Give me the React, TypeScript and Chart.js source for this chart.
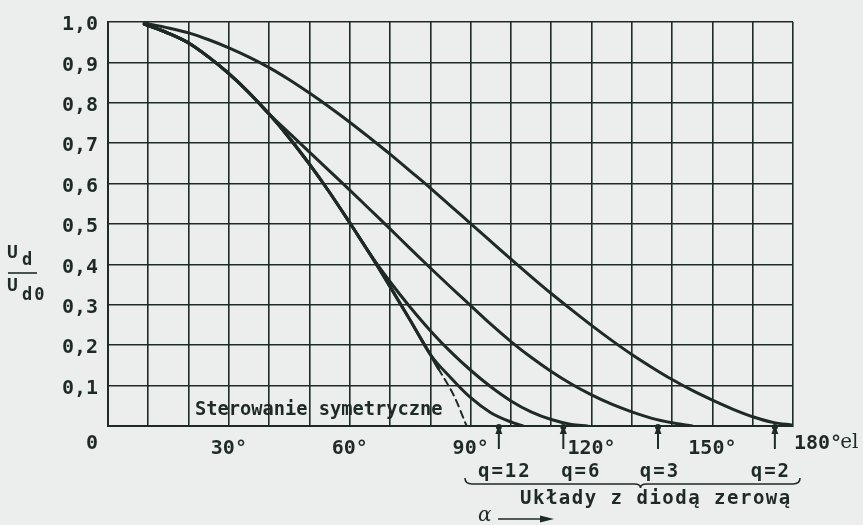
import React, { useEffect, useRef } from 'react';
import { Chart, registerables } from 'chart.js';

Chart.register(...registerables);

// ---- data (alpha in degrees el., Ud/Ud0) ----
const angleTickLabels = [30, 60, 90, 120, 150];

// q = 2 (single-phase with zero diode)
const q2Alpha = [9, 15, 20, 25, 30, 35, 40, 45, 50, 55, 60, 65, 70, 75, 80, 85, 90, 95, 100, 105, 110, 115, 120, 125, 130, 135, 140, 145, 150, 155, 160, 165, 170];
const q2Ud = [0.997, 0.985, 0.973, 0.956, 0.936, 0.913, 0.887, 0.857, 0.824, 0.789, 0.752, 0.713, 0.673, 0.631, 0.589, 0.545, 0.501, 0.457, 0.413, 0.37, 0.328, 0.288, 0.249, 0.212, 0.177, 0.145, 0.115, 0.088, 0.064, 0.042, 0.023, 0.009, 0.002];

// common curve (symmetric control), solid part
const symAlpha = [9, 15, 20, 25, 30, 35, 40, 45, 50, 55, 60, 65, 70, 75, 80, 82];
const symUd = [0.995, 0.972, 0.948, 0.913, 0.872, 0.825, 0.772, 0.713, 0.648, 0.578, 0.503, 0.426, 0.345, 0.262, 0.177, 0.142];

// symmetric control, dashed end
const symDashAlpha = [82, 86, 89];
const symDashUd = [0.142, 0.072, 0.0];

// q = 3 branch
const q3Alpha = [45, 50, 55, 60, 65, 70, 75, 80, 85, 90, 95, 100, 105, 110, 115, 120, 125, 130, 135, 140, 145];
const q3Ud = [0.725, 0.678, 0.631, 0.584, 0.536, 0.488, 0.439, 0.391, 0.344, 0.298, 0.252, 0.209, 0.17, 0.135, 0.104, 0.077, 0.054, 0.035, 0.019, 0.008, 0.0];

// q = 6 branch
const q6Alpha = [70, 75, 80, 85, 90, 95, 100, 105, 110, 115, 119];
const q6Ud = [0.357, 0.294, 0.236, 0.184, 0.138, 0.097, 0.062, 0.035, 0.016, 0.004, 0.0];

// q = 12 branch
const q12Alpha = [85, 90, 95, 100, 103];
const q12Ud = [0.12, 0.07, 0.033, 0.01, 0.0];

// end markers on the alpha axis
const qMarkAlpha = [97, 113, 136.5, 165.5];
const qLabels = ['q=12', 'q=6', 'q=3', 'q=2'];

const INK = '#1f2a26';
const BG = '#eceeed';
const MONO = '"DejaVu Sans Mono", "Liberation Mono", monospace';

const pts = (xs: number[], ys: number[]) => xs.map((x, i) => ({ x, y: ys[i] }));
const sharedUpTo = (lim: number) => pts(symAlpha, symUd).filter((p) => p.x <= lim);

const curve = (data: { x: number; y: number }[], dash: number[] = [], width = 3) => ({
  data,
  borderColor: INK,
  borderWidth: width,
  borderDash: dash,
  pointRadius: 0,
  fill: false,
  cubicInterpolationMode: 'monotone' as const,
  borderCapStyle: 'round' as const,
});

const decorPlugin = {
  id: 'decor',
  afterDraw(chart: any) {
    const ctx: CanvasRenderingContext2D = chart.ctx;
    const xs = chart.scales.x;
    const ys = chart.scales.y;
    const ca = chart.chartArea;
    const X = (v: number) => xs.getPixelForValue(v);
    const Y0 = ys.getPixelForValue(0);
    ctx.save();
    ctx.fillStyle = INK;
    ctx.strokeStyle = INK;

    // origin "0"
    ctx.font = `bold 20px ${MONO}`;
    ctx.textAlign = 'center';
    ctx.textBaseline = 'middle';
    ctx.fillText('0', ca.left - 16, Y0 + 18);

    // 180°el
    ctx.textAlign = 'left';
    ctx.fillText('180°', X(170) + 1, Y0 + 18);
    const w180 = ctx.measureText('180°').width;
    ctx.font = `20px "DejaVu Serif", "Liberation Serif", serif`;
    ctx.fillText('el', X(170) + 1 + w180 - 2, Y0 + 17);

    // Sterowanie symetryczne
    ctx.font = `bold 18.7px ${MONO}`;
    ctx.textAlign = 'left';
    ctx.fillText('Sterowanie symetryczne', ca.left + 87, Y0 - 16);

    // markers
    qMarkAlpha.forEach((a) => {
      const x = X(a);
      ctx.lineWidth = 2;
      ctx.beginPath();
      ctx.moveTo(x, Y0 + 2);
      ctx.lineTo(x, Y0 + 23);
      ctx.stroke();
      ctx.beginPath();
      ctx.moveTo(x, Y0 - 1);
      ctx.lineTo(x - 3.5, Y0 + 8);
      ctx.lineTo(x + 3.5, Y0 + 8);
      ctx.closePath();
      ctx.fill();
      ctx.beginPath();
      ctx.arc(x, Y0 + 1, 3, 0, Math.PI * 2);
      ctx.fill();
    });

    // q labels
    ctx.font = `bold 19px ${MONO}`;
    (ctx as any).letterSpacing = '2px';
    ctx.textAlign = 'center';
    const qOff = [6, 18, 2, -4];
    qLabels.forEach((t, i) => {
      ctx.fillText(t, X(qMarkAlpha[i]) + qOff[i], Y0 + 46);
    });

    // brace
    const bx1 = ca.left + 357;
    const bx2 = ca.right + 7;
    const by = Y0 + 58;
    const mid = (bx1 + bx2) / 2 + 8;
    ctx.lineWidth = 1.6;
    ctx.beginPath();
    ctx.moveTo(bx1, by - 6);
    ctx.quadraticCurveTo(bx1, by, bx1 + 7, by);
    ctx.lineTo(mid - 6, by);
    ctx.quadraticCurveTo(mid, by, mid, by + 4);
    ctx.quadraticCurveTo(mid, by, mid + 6, by);
    ctx.lineTo(bx2 - 7, by);
    ctx.quadraticCurveTo(bx2, by, bx2, by - 6);
    ctx.stroke();

    // Układy z diodą zerową
    ctx.font = `bold 19px ${MONO}`;
    (ctx as any).letterSpacing = '1.5px';
    ctx.textAlign = 'left';
    ctx.fillText('Układy z diodą zerową', ca.left + 412, Y0 + 73);
    (ctx as any).letterSpacing = '0px';

    // alpha arrow
    ctx.font = `italic 20px "DejaVu Serif", "Liberation Serif", serif`;
    ctx.fillText('α', ca.left + 370, Y0 + 90);
    ctx.lineWidth = 1.6;
    ctx.beginPath();
    ctx.moveTo(ca.left + 390, Y0 + 93);
    ctx.lineTo(ca.left + 436, Y0 + 93);
    ctx.stroke();
    ctx.beginPath();
    ctx.moveTo(ca.left + 446, Y0 + 93);
    ctx.lineTo(ca.left + 432, Y0 + 89.5);
    ctx.lineTo(ca.left + 432, Y0 + 96.5);
    ctx.closePath();
    ctx.fill();

    // y title: Ud / Ud0
    ctx.textAlign = 'left';
    ctx.font = `bold 18px ${MONO}`;
    ctx.fillText('U', 7, 253);
    ctx.font = `bold 17px ${MONO}`;
    ctx.fillText('d', 22, 261);
    ctx.lineWidth = 1.6;
    ctx.beginPath();
    ctx.moveTo(8, 273);
    ctx.lineTo(37, 273);
    ctx.stroke();
    ctx.font = `bold 18px ${MONO}`;
    ctx.fillText('U', 7, 286);
    ctx.font = `bold 17px ${MONO}`;
    (ctx as any).letterSpacing = '2px';
    ctx.fillText('d0', 22, 296);
    (ctx as any).letterSpacing = '0px';

    ctx.restore();
  },
};

export default function App() {
  const ref = useRef<HTMLCanvasElement>(null);
  useEffect(() => {
    document.body.style.margin = '0';
    document.body.style.background = BG;
    const canvas = ref.current!;
    const chart = new Chart(canvas, {
      type: 'line',
      data: {
        datasets: [
          curve(pts(q2Alpha, q2Ud)),
          curve(sharedUpTo(40).concat(pts(q3Alpha, q3Ud))),
          curve(sharedUpTo(65).concat(pts(q6Alpha, q6Ud))),
          curve(sharedUpTo(80).concat(pts(q12Alpha, q12Ud))),
          curve(pts(symAlpha, symUd)),
          curve(pts(symDashAlpha, symDashUd), [7, 5], 2),
        ] as any,
      },
      options: {
        responsive: false,
        animation: false,
        devicePixelRatio: 1,
        layout: { padding: { left: 0, right: 70, top: 22, bottom: 0 } },
        plugins: { legend: { display: false }, tooltip: { enabled: false } },
        scales: {
          x: {
            type: 'linear',
            min: 0,
            max: 170,
            grid: { color: INK, lineWidth: 1.6, drawTicks: false },
            border: { color: INK, width: 2 },
            ticks: {
              stepSize: 10,
              autoSkip: false,
              maxRotation: 0,
              padding: 11,
              color: INK,
              font: { family: MONO, size: 20, weight: 'bold' },
              callback: (v: any) => (angleTickLabels.includes(Number(v)) ? `${v}°` : ''),
            },
            afterFit: (s: any) => {
              s.height = 99;
            },
          },
          y: {
            type: 'linear',
            min: 0,
            max: 1,
            grid: { color: INK, lineWidth: 1.6, drawTicks: false },
            border: { color: INK, width: 2 },
            ticks: {
              stepSize: 0.1,
              padding: 10,
              labelOffset: 3,
              color: INK,
              font: { family: MONO, size: 20, weight: 'bold' },
              callback: (v: any) => (Number(v) === 0 ? '' : Number(v).toFixed(1).replace('.', ',')),
            },
            afterFit: (s: any) => {
              s.width = 108;
            },
          },
        },
      } as any,
      plugins: [decorPlugin],
    });
    return () => chart.destroy();
  }, []);
  return (
    <div style={{ width: 863, height: 525, background: BG }}>
      <canvas ref={ref} width={863} height={525} style={{ display: 'block', width: 863, height: 525 }} />
    </div>
  );
}
